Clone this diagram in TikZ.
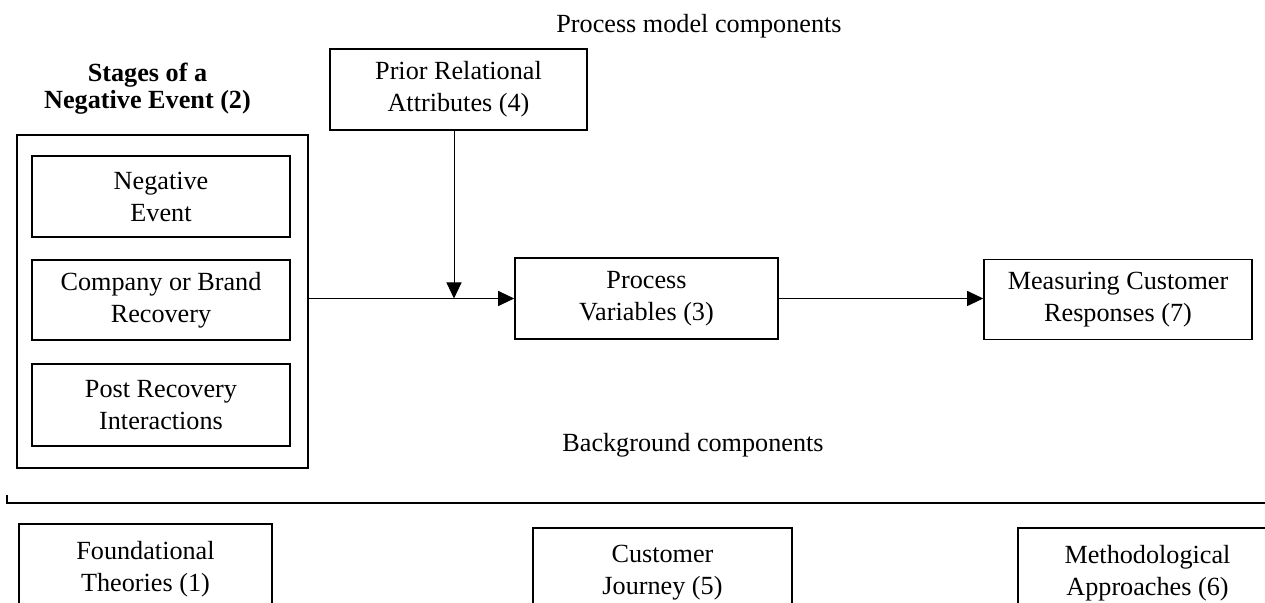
\documentclass[tikz,border=0pt]{standalone}
\usepackage{fontspec}
\setmainfont{Liberation Serif}
\usetikzlibrary{arrows.meta}
\newcommand{\fsz}{\fontsize{13.1}{16}\selectfont}
\tikzset{
  box/.style={draw, line width=0.8pt, align=center, inner sep=0pt, font=\fsz},
  outerbox/.style={draw, line width=1.35pt, inner sep=0pt},
  arr/.style={line width=0.5pt, -{Triangle[length=8pt,width=7.5pt]}},
  lbl/.style={align=center, inner sep=0pt, font=\fsz},
}
\begin{document}
\begin{tikzpicture}[x=0.5pt,y=-0.5pt]
\clip (0,0) rectangle (1265,603);
\fill[white] (0,0) rectangle (1265,603);
% titles
\node[lbl] (pmc) at (699,26) {Process model components};
\node[lbl] (bgc) at (693,445) {Background components};
\node[lbl, font=\fontsize{13.1}{13.5}\selectfont\bfseries] (stg) at (147.5,89) {Stages of a\\Negative Event (2)};
% stages group
\node[outerbox, minimum width=145.5pt, minimum height=166.5pt] (outer) at (162.5,301.5) {};
\node[box, minimum width=129pt, minimum height=40.5pt] (neg) at (161,196.5) {Negative\\Event};
\node[box, minimum width=129pt, minimum height=40pt] (comp) at (161,300) {Company or Brand\\Recovery};
\node[box, minimum width=129pt, minimum height=41pt] (post) at (161,405) {Post Recovery\\Interactions};
% process model
\node[box, minimum width=128.5pt, minimum height=40.5pt] (prior) at (458.5,89.5) {Prior Relational\\Attributes (4)};
\node[box, minimum width=131.5pt, minimum height=40.5pt] (proc) at (646.5,298.5) {Process\\Variables (3)};
\node[box, minimum width=134pt, minimum height=40pt] (meas) at (1118,299.5) {Measuring Customer\\Responses (7)};
\coordinate (m) at (454,298.5);
\draw[arr] (proc.west -| outer.east) -- (proc.west);
\draw[arr] (prior.south -| m) -- (m);
\draw[arr] (proc.east) -- (proc.east -| meas.west);
% separator rule
\coordinate (rl) at (7,495);
\coordinate (rr) at (1265,503);
\draw[line width=0.8pt] (rl) -- (rl |- rr) -- (rr);
% background components
\node[box, minimum width=126.5pt, minimum height=45pt] (found) at (145.5,569) {Foundational\\Theories (1)};
\node[box, minimum width=129.5pt, minimum height=45pt] (cust) at (662.5,573) {Customer\\Journey (5)};
\node[box, minimum width=129.5pt, minimum height=45pt] (meth) at (1147.5,573) {Methodological\\Approaches (6)};
\end{tikzpicture}
\end{document}
